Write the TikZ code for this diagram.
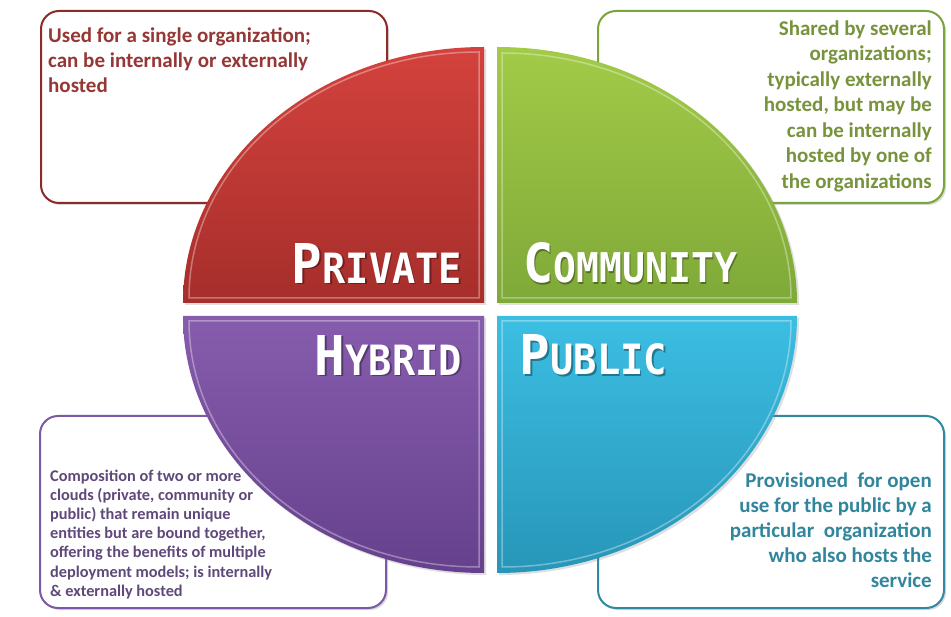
\documentclass[tikz,border=0pt]{standalone}
\usepackage{fontspec}
\usepackage{graphicx}
\setmainfont{Carlito}
\newfontfamily\labelfont{DejaVu Sans Mono}
\usetikzlibrary{shadows}
\definecolor{redtop}{HTML}{D4423D}
\definecolor{redbot}{HTML}{A62E2B}
\definecolor{greentop}{HTML}{A2CB48}
\definecolor{greenbot}{HTML}{7FA938}
\definecolor{purptop}{HTML}{875CAD}
\definecolor{purpbot}{HTML}{65418D}
\definecolor{bluetop}{HTML}{3CBEE3}
\definecolor{bluebot}{HTML}{2796B8}
\definecolor{redline}{HTML}{8E2B29}
\definecolor{greenline}{HTML}{7AA53B}
\definecolor{purpline}{HTML}{7B59A6}
\definecolor{blueline}{HTML}{2F89A2}
\definecolor{redtext}{HTML}{953735}
\definecolor{greentext}{HTML}{77933C}
\definecolor{purptext}{HTML}{5F497A}
\definecolor{bluetext}{HTML}{31859C}
\newcommand{\qlabel}[3]{\resizebox{#3}{40pt}{\labelfont\bfseries\fontsize{10}{10}\selectfont #1\fontsize{7.6}{7.6}\selectfont #2}}
\tikzset{
  descbox/.style={fill=white, line width=2pt, rounded corners=18pt, anchor=north west,
    minimum width=346pt, minimum height=192pt, inner sep=0pt,
    drop shadow={opacity=0.3, shadow xshift=2pt, shadow yshift=-2pt}},
  bigtext/.style={font=\fontsize{21}{25}\selectfont\bfseries, inner sep=0pt},
  commtext/.style={font=\fontsize{21}{25.5}\selectfont\bfseries, inner sep=0pt},
  smalltext/.style={font=\fontsize{16.3}{19.2}\selectfont\bfseries, inner sep=0pt},
  quad/.style={drop shadow={opacity=0.25, shadow xshift=2pt, shadow yshift=-2pt}},
  bevel/.style={draw=white, draw opacity=0.35, line width=1.5pt},
  qlab/.style={text=white, inner sep=0pt},
  qshadow/.style={text=black, text opacity=0.35, inner sep=0pt}
}
\begin{document}
\begin{tikzpicture}[x=1pt,y=-1pt]
\useasboundingbox (0,0) rectangle (951,617);
\fill[white] (0,0) rectangle (951,617);

% description boxes
\node[descbox, draw=redline] (privbox) at (40,10) {};
\node[descbox, draw=greenline] (commbox) at (597,10) {};
\node[descbox, draw=purpline] (hybbox) at (39,415) {};
\node[descbox, draw=blueline] (pubbox) at (597,415) {};

% quadrants
\path[quad, top color=redtop, bottom color=redbot]
  (484,303) -- (183,303) arc[start angle=180, end angle=270, x radius=301, y radius=256] -- cycle;
\draw[bevel] (479,298) -- (189,298) arc[start angle=180, end angle=270, x radius=290, y radius=246] -- cycle;
\path[quad, top color=greentop, bottom color=greenbot]
  (497,303) -- (497,47) arc[start angle=270, end angle=360, x radius=300, y radius=256] -- cycle;
\draw[bevel] (502,298) -- (502,53) arc[start angle=270, end angle=360, x radius=289, y radius=245] -- cycle;
\path[quad, top color=purptop, bottom color=purpbot]
  (484,316) -- (183,316) arc[start angle=180, end angle=90, x radius=301, y radius=257] -- cycle;
\draw[bevel] (479,321) -- (189,321) arc[start angle=180, end angle=90, x radius=290, y radius=246] -- cycle;
\path[quad, top color=bluetop, bottom color=bluebot]
  (497,316) -- (797,316) arc[start angle=0, end angle=90, x radius=300, y radius=257] -- cycle;
\draw[bevel] (502,321) -- (791,321) arc[start angle=0, end angle=90, x radius=289, y radius=246] -- cycle;

% quadrant labels
\node[qshadow] at (378.5,264.5) {\qlabel{P}{RIVATE}{170pt}};
\node[qlab] (privlab) at (377,263) {\qlabel{P}{RIVATE}{170pt}};
\node[qshadow] at (631.5,264.5) {\qlabel{C}{OMMUNITY}{214pt}};
\node[qlab] (commlab) at (630,263) {\qlabel{C}{OMMUNITY}{214pt}};
\node[qshadow] at (390,356.5) {\qlabel{H}{YBRID}{147pt}};
\node[qlab] (hyblab) at (388.5,355) {\qlabel{H}{YBRID}{147pt}};
\node[qshadow] at (595,356.5) {\qlabel{P}{UBLIC}{147pt}};
\node[qlab] (publab) at (593.5,355) {\qlabel{P}{UBLIC}{147pt}};

% descriptions
\node[bigtext, text=redtext, anchor=north west, align=left] (privtxt) at (48,28)
  {Used for a single organization;\\can be internally or externally\\hosted};
\node[commtext, text=greentext, anchor=north east, align=right] (commtxt) at (932,20.5)
  {Shared by several\\organizations;\\typically externally\\hosted, but may be\\can be internally\\hosted by one of\\the organizations};
\node[smalltext, text=purptext, anchor=north west, align=left] (hybtxt) at (50,469.5)
  {Composition of two or more\\clouds (private, community or\\public) that remain unique\\entities but are bound together,\\offering the benefits of multiple\\deployment models; is internally\\\& externally hosted};
\node[bigtext, text=bluetext, anchor=north east, align=right] (pubtxt) at (932,472.5)
  {Provisioned\ \ for open\\use for the public by a\\particular\ \ organization\\who also hosts the\\service};
\end{tikzpicture}
\end{document}
